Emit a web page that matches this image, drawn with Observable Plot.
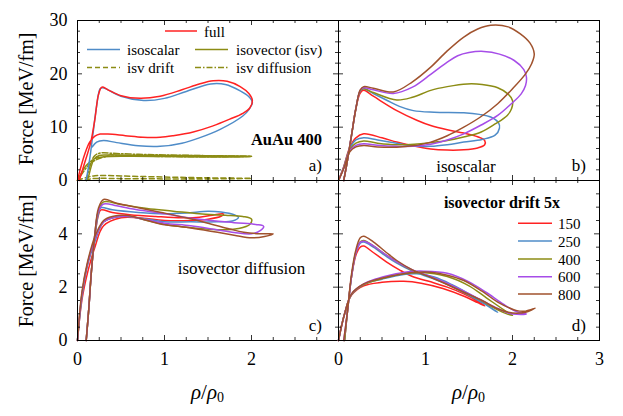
<!DOCTYPE html>
<html><head><meta charset="utf-8">
<script src="https://cdn.jsdelivr.net/npm/d3@7"></script>
<script src="https://cdn.jsdelivr.net/npm/@observablehq/plot@0.6"></script>
<style>
body{margin:0;background:#fff;}
#chart{position:relative;width:623px;height:416px;font-family:"Liberation Serif","DejaVu Serif",serif;}
#chart svg{position:absolute;left:0;top:0;}
#chart text{font-family:"Liberation Serif","DejaVu Serif",serif;}
</style></head><body><div id="chart"></div>
<script>
// ---------- data (rho/rho0, force MeV/fm) ----------
// panel a) AuAu 400
const a_full = [[0.02,0],[0.08,3.2],[0.15,7.0],[0.2,11.5],[0.24,16.0],[0.28,17.5],[0.35,17.0],[0.5,15.9],[0.72,15.4],[0.95,15.8],[1.2,17.0],[1.4,18.1],[1.56,18.7],[1.72,18.6],[1.87,17.6],[1.97,16.3],[2.01,15.0],[1.98,13.6],[1.9,12.6],[1.75,11.5],[1.55,10.2],[1.33,9.1],[1.1,8.4],[0.95,8.1],[0.75,8.1],[0.55,8.4],[0.35,8.7],[0.26,8.7],[0.2,8.3],[0.14,7.2],[0.08,4.8],[0.03,2.0],[0,0]];
const a_isoscalar = [[0.1,0],[0.14,4.0],[0.18,9.0],[0.22,14.0],[0.26,17.2],[0.29,17.4],[0.35,17.0],[0.5,15.8],[0.76,15.0],[1.0,15.4],[1.25,16.7],[1.53,18.1],[1.7,18.0],[1.87,16.8],[1.97,15.7],[2.01,14.6],[1.97,13.3],[1.9,12.1],[1.64,9.6],[1.4,8.0],[1.2,7.0],[0.95,6.4],[0.7,6.5],[0.45,7.1],[0.3,7.5],[0.22,7.2],[0.17,6.3]];
const a_isv = [[0,0],[0.1,2.8],[0.2,4.1],[0.3,4.45],[0.6,4.55],[1.0,4.5],[1.5,4.4],[1.8,4.4],[2.0,4.5],[1.8,4.6],[1.5,4.65],[1.0,4.7],[0.6,4.75],[0.35,4.8],[0.25,4.7],[0.19,4.0],[0.15,2.2],[0.12,0.4],[0.1,0]];
const a_isv_drift = [[0,0],[0.1,0.55],[0.2,0.9],[0.3,0.95],[0.5,0.85],[1.0,0.65],[1.5,0.5],[2.0,0.4],[1.5,0.3],[1.0,0.3],[0.5,0.35],[0.25,0.4],[0.15,0.3],[0.08,0.05]];
const a_isv_diffusion = [[0.1,0],[0.15,3.0],[0.2,4.7],[0.28,5.2],[0.4,5.1],[0.7,4.9],[1.0,4.8],[1.5,4.65],[2.0,4.55],[1.5,4.45],[1.0,4.5],[0.6,4.6],[0.3,4.4],[0.15,3.2],[0.05,1.2],[0,0]];
// panel b) isoscalar, per beam energy
const b_150 = [[0.06,0],[0.1,3.5],[0.15,8.5],[0.2,13.5],[0.25,16.4],[0.29,16.9],[0.4,15.8],[0.67,13.1],[0.9,11.3],[1.06,10.3],[1.25,9.5],[1.44,8.9],[1.6,8.2],[1.68,7.5],[1.68,6.7],[1.6,6.1],[1.44,5.75],[1.25,5.7],[1.06,5.9],[0.85,6.5],[0.67,7.2],[0.5,8.0],[0.29,8.75],[0.2,8.0],[0.13,6.2],[0.06,2.6],[0,0]];
const b_250 = [[0.06,0],[0.1,3.5],[0.15,8.5],[0.2,13.5],[0.25,16.8],[0.29,17.2],[0.4,16.3],[0.56,15.0],[0.7,13.9],[0.86,13.1],[1.1,12.8],[1.44,12.7],[1.62,12.4],[1.75,11.9],[1.84,10.8],[1.85,9.8],[1.8,8.5],[1.65,7.7],[1.44,7.2],[1.25,6.7],[1.06,6.4],[0.85,6.5],[0.67,7.0],[0.45,7.6],[0.29,8.0],[0.2,7.6],[0.13,6.0],[0.06,2.5],[0,0]];
const b_400 = [[0.06,0],[0.1,3.5],[0.15,8.5],[0.2,13.5],[0.25,16.8],[0.29,17.2],[0.4,16.5],[0.67,15.1],[0.85,15.6],[1.06,16.9],[1.25,17.6],[1.48,18.1],[1.65,18.0],[1.83,17.4],[1.95,16.2],[2.0,15.0],[1.99,13.5],[1.94,12.2],[1.8,10.6],[1.64,9.1],[1.45,8.2],[1.25,7.5],[1.06,7.1],[0.87,6.8],[0.67,6.7],[0.45,7.0],[0.29,7.4],[0.2,7.0],[0.13,5.8],[0.06,2.4],[0,0]];
const b_600 = [[0.06,0],[0.1,3.5],[0.15,8.5],[0.2,13.5],[0.25,16.9],[0.29,17.4],[0.4,17.0],[0.63,16.3],[0.85,17.5],[1.06,19.9],[1.25,22.2],[1.37,23.4],[1.5,24.0],[1.67,24.2],[1.85,23.7],[2.02,22.5],[2.13,20.8],[2.16,19.4],[2.15,17.8],[2.1,16.25],[1.98,14.3],[1.83,12.2],[1.64,10.4],[1.44,8.75],[1.25,7.6],[1.06,6.8],[0.85,6.4],[0.67,6.4],[0.45,6.6],[0.29,6.9],[0.2,6.6],[0.13,5.6],[0.06,2.3],[0,0]];
const b_800 = [[0.06,0],[0.1,3.5],[0.15,8.5],[0.2,13.5],[0.25,17.0],[0.29,17.6],[0.4,17.3],[0.63,16.6],[0.85,18.5],[1.06,21.25],[1.25,24.3],[1.44,26.9],[1.6,28.4],[1.75,29.1],[1.95,28.8],[2.09,27.5],[2.2,25.8],[2.25,23.75],[2.22,21.9],[2.15,20.0],[2.0,17.2],[1.83,14.4],[1.64,12.0],[1.44,10.0],[1.25,8.4],[1.06,7.2],[0.85,6.5],[0.67,6.25],[0.45,6.3],[0.29,6.56],[0.2,6.3],[0.13,5.4],[0.06,2.2],[0,0]];
// panel c) isovector diffusion
const c_150 = [[0.1,0],[0.13,1.2],[0.16,2.6],[0.2,3.9],[0.24,4.7],[0.27,4.9],[0.4,4.8],[0.6,4.72],[0.9,4.65],[1.2,4.6],[1.4,4.62],[1.55,4.7],[1.68,4.75],[1.65,4.66],[1.5,4.55],[1.3,4.5],[1.0,4.5],[0.7,4.6],[0.5,4.6],[0.3,4.3],[0.2,3.5],[0.12,2.6],[0.05,1.5],[0,0]];
const c_250 = [[0.1,0],[0.13,1.2],[0.16,2.6],[0.2,3.9],[0.24,4.75],[0.27,4.98],[0.4,4.9],[0.7,4.8],[1.0,4.75],[1.25,4.78],[1.5,4.85],[1.65,4.82],[1.8,4.72],[1.85,4.62],[1.78,4.48],[1.6,4.45],[1.3,4.45],[1.0,4.45],[0.7,4.6],[0.5,4.65],[0.3,4.45],[0.2,3.7],[0.11,2.75],[0.05,1.6],[0,0]];
const c_400 = [[0.1,0],[0.13,1.2],[0.16,2.6],[0.2,4.0],[0.24,4.85],[0.3,5.2],[0.5,5.1],[0.8,4.95],[1.1,4.85],[1.4,4.75],[1.7,4.7],[1.9,4.65],[2.0,4.55],[1.98,4.35],[1.85,4.2],[1.65,4.15],[1.4,4.2],[1.1,4.3],[0.8,4.5],[0.6,4.65],[0.4,4.6],[0.3,4.45],[0.2,3.8],[0.11,2.8],[0.05,1.7],[0,0]];
const c_600 = [[0.1,0],[0.13,1.2],[0.16,2.6],[0.2,4.0],[0.24,4.85],[0.3,5.12],[0.45,5.05],[0.6,4.95],[1.0,4.75],[1.4,4.55],[1.8,4.42],[2.05,4.35],[2.14,4.28],[2.1,4.12],[2.0,4.0],[1.8,4.05],[1.6,4.15],[1.3,4.3],[1.0,4.4],[0.75,4.55],[0.6,4.65],[0.4,4.6],[0.3,4.45],[0.2,3.8],[0.11,2.8],[0.05,1.7],[0,0]];
const c_800 = [[0.1,0],[0.13,1.2],[0.16,2.6],[0.2,4.0],[0.24,4.95],[0.3,5.29],[0.45,5.15],[0.7,4.98],[0.95,4.81],[1.25,4.6],[1.53,4.37],[1.75,4.18],[1.91,4.06],[2.1,4.0],[2.25,4.0],[2.15,3.9],[2.0,3.85],[1.8,3.95],[1.53,4.1],[1.25,4.25],[0.95,4.37],[0.75,4.55],[0.57,4.69],[0.4,4.65],[0.3,4.5],[0.2,3.9],[0.11,2.87],[0.05,1.8],[0,0]];
// panel d) isovector drift 5x
const d_150 = [[0.07,0],[0.1,1.0],[0.15,2.4],[0.2,3.2],[0.25,3.5],[0.29,3.54],[0.4,3.3],[0.55,2.95],[0.7,2.65],[0.85,2.4],[1.06,2.2],[1.25,2.0],[1.44,1.75],[1.6,1.48],[1.68,1.3],[1.6,1.42],[1.45,1.65],[1.2,1.95],[0.95,2.15],[0.75,2.22],[0.5,2.18],[0.29,2.05],[0.15,1.7],[0.07,1.0],[0,0]];
const d_250 = [[0.07,0],[0.1,1.0],[0.15,2.4],[0.2,3.3],[0.25,3.65],[0.29,3.69],[0.4,3.5],[0.55,3.15],[0.67,2.9],[0.85,2.6],[1.06,2.35],[1.25,2.1],[1.44,1.8],[1.65,1.42],[1.83,1.06],[1.72,1.3],[1.55,1.65],[1.3,2.1],[1.1,2.38],[0.9,2.5],[0.7,2.45],[0.5,2.3],[0.29,2.1],[0.15,1.72],[0.07,1.0],[0,0]];
const d_400 = [[0.07,0],[0.1,1.0],[0.15,2.4],[0.2,3.3],[0.25,3.7],[0.29,3.75],[0.4,3.55],[0.55,3.2],[0.67,2.95],[0.85,2.63],[1.06,2.38],[1.25,2.12],[1.44,1.82],[1.65,1.48],[1.83,1.15],[1.95,0.98],[2.0,0.94],[1.9,1.15],[1.7,1.6],[1.5,2.05],[1.25,2.4],[0.95,2.55],[0.75,2.5],[0.5,2.32],[0.29,2.1],[0.15,1.73],[0.07,1.0],[0,0]];
const d_600 = [[0.06,0],[0.1,1.0],[0.15,2.4],[0.2,3.3],[0.25,3.68],[0.29,3.72],[0.4,3.55],[0.55,3.2],[0.67,2.95],[0.85,2.65],[1.06,2.4],[1.25,2.15],[1.44,1.85],[1.65,1.5],[1.83,1.2],[1.95,1.03],[2.05,0.98],[2.16,1.0],[2.05,1.08],[1.9,1.35],[1.7,1.8],[1.5,2.2],[1.25,2.52],[0.98,2.6],[0.8,2.58],[0.6,2.46],[0.45,2.33],[0.29,2.12],[0.15,1.75],[0.07,1.0],[0,0]];
const d_800 = [[0.06,0],[0.1,1.0],[0.15,2.5],[0.2,3.4],[0.25,3.85],[0.29,3.91],[0.4,3.7],[0.55,3.3],[0.67,3.0],[0.85,2.65],[1.06,2.37],[1.25,2.1],[1.44,1.81],[1.65,1.5],[1.83,1.19],[1.95,1.06],[2.05,1.02],[2.15,1.06],[2.26,1.21],[2.15,1.1],[2.05,1.12],[1.83,1.44],[1.65,1.85],[1.44,2.25],[1.25,2.45],[1.06,2.56],[0.85,2.55],[0.67,2.46],[0.45,2.3],[0.29,2.12],[0.15,1.75],[0.07,1.0],[0,0]];

const energies = ["150","250","400","600","800"];
const energyColors = ["#ff2222","#4f8cc8","#8c8c14","#a64de8","#a0522d"];
const cRed = "#ff2222", cBlue = "#4f8cc8", cOlive = "#8c8c14";
const xTickValues = [0,1,2,3];
const yTopTicks = [0,10,20,30];
const yBotTicks = [0,2,4,6];

// ---------- layout ----------
const W = 623, H = 416;
const xL0 = 77, xMid = 338, xR1 = 599, yTop = 20, yMidPx = 180, yBot = 340;
const chart = document.getElementById("chart");
const FONT = "'Liberation Serif', 'DejaVu Serif', serif";

function panel({series, yDomain, yMajor, yMinorStep, left, right, top, bottom, xLabels, yLabels}) {
  const innerW = W - left - right, innerH = H - top - bottom;
  const xMinor = d3.range(0, 3.0001, 0.25).filter(v => !xTickValues.includes(v));
  const yMinor = d3.range(yDomain[0], yDomain[1] + 1e-6, yMinorStep).filter(v => !yMajor.some(m => Math.abs(m - v) < 1e-9));
  const marks = [];
  for (const s of series) {
    marks.push(Plot.line(s.data, {x: d => d[0], y: d => d[1], stroke: s.color, strokeWidth: 1.5,
      strokeDasharray: s.dash || null, curve: "catmull-rom"}));
  }
  const tick = {stroke: "black", strokeWidth: 0.8};
  marks.push(Plot.ruleX(xTickValues, {x: d => d, insetTop: innerH - 5, ...tick}));
  marks.push(Plot.ruleX(xTickValues, {x: d => d, insetBottom: innerH - 5, ...tick}));
  marks.push(Plot.ruleX(xMinor, {x: d => d, insetTop: innerH - 3, ...tick}));
  marks.push(Plot.ruleX(xMinor, {x: d => d, insetBottom: innerH - 3, ...tick}));
  marks.push(Plot.ruleY(yMajor, {y: d => d, insetRight: innerW - 5, ...tick}));
  marks.push(Plot.ruleY(yMajor, {y: d => d, insetLeft: innerW - 5, ...tick}));
  marks.push(Plot.ruleY(yMinor, {y: d => d, insetRight: innerW - 3, ...tick}));
  marks.push(Plot.ruleY(yMinor, {y: d => d, insetLeft: innerW - 3, ...tick}));
  marks.push(Plot.frame({stroke: "black", strokeWidth: 1}));
  if (xLabels) marks.push(Plot.text(xLabels, {x: d => d, frameAnchor: "bottom", dy: 18.5, lineAnchor: "middle", text: d => String(d), fontSize: 18, fill: "black"}));
  if (yLabels) marks.push(Plot.text(yLabels, {y: d => d, frameAnchor: "left", dx: -10, textAnchor: "end", lineAnchor: "middle", text: d => String(d), fontSize: 18, fill: "black"}));
  const svg = Plot.plot({
    width: W, height: H, marginLeft: left, marginRight: right, marginTop: top, marginBottom: bottom,
    x: {domain: [0, 3], axis: null}, y: {domain: yDomain, axis: null},
    style: {background: "transparent", fontFamily: FONT, overflow: "visible"},
    marks
  });
  svg.style.position = "absolute"; svg.style.left = "0px"; svg.style.top = "0px";
  chart.appendChild(svg);
}

const byEnergy = (arrs) => arrs.map((d, i) => ({data: d, color: energyColors[i]}));

panel({series: [
    {data: a_isv_drift, color: cOlive, dash: "5,3"},
    {data: a_isv_diffusion, color: cOlive, dash: "6,2,1.5,2"},
    {data: a_isv, color: cOlive},
    {data: a_isoscalar, color: cBlue},
    {data: a_full, color: cRed}],
  yDomain: [0, 30], yMajor: yTopTicks, yMinorStep: 2,
  left: xL0, right: W - xMid, top: yTop, bottom: H - yMidPx, yLabels: yTopTicks});
panel({series: byEnergy([b_150, b_250, b_400, b_600, b_800]),
  yDomain: [0, 30], yMajor: yTopTicks, yMinorStep: 2,
  left: xMid, right: W - xR1, top: yTop, bottom: H - yMidPx});
panel({series: byEnergy([c_150, c_250, c_400, c_600, c_800]),
  yDomain: [0, 6], yMajor: yBotTicks, yMinorStep: 0.5,
  left: xL0, right: W - xMid, top: yMidPx, bottom: H - yBot, xLabels: [0, 1, 2], yLabels: [0, 2, 4]});
panel({series: byEnergy([d_150, d_250, d_400, d_600, d_800]),
  yDomain: [0, 6], yMajor: yBotTicks, yMinorStep: 0.5,
  left: xMid, right: W - xR1, top: yMidPx, bottom: H - yBot, xLabels: [0, 1, 2, 3]});

// ---------- annotations & legends ----------
const ov = d3.select(chart).append("svg").attr("width", W).attr("height", H)
  .style("position", "absolute").style("left", "0px").style("top", "0px");
function txt(x, y, s, {size = 17, anchor = "start", weight = "normal"} = {}) {
  return ov.append("text").attr("x", x).attr("y", y).style("font-family", FONT).attr("font-size", size).attr("text-anchor", anchor)
    .attr("font-weight", weight).attr("dominant-baseline", "central").attr("fill", "black").text(s);
}
function sample(x1, x2, y, color, dash) {
  ov.append("line").attr("x1", x1).attr("x2", x2).attr("y1", y).attr("y2", y)
    .attr("stroke", color).attr("stroke-width", 1.5).attr("stroke-dasharray", dash || null);
}
sample(165, 197, 31, cRed); txt(204, 32, "full", {size: 15});
sample(87, 120, 49.5, cBlue); txt(127, 50, "isoscalar", {size: 15});
sample(195, 228, 49.5, cOlive); txt(236, 50, "isovector (isv)", {size: 15});
sample(87, 120, 67.5, cOlive, "5,3"); txt(127, 68, "isv drift", {size: 15});
sample(195, 228, 67.5, cOlive, "6,2,1.5,2"); txt(236, 68, "isv diffusion", {size: 15});
txt(322, 139, "AuAu 400", {anchor: "end", weight: "bold", size: 16.5});
txt(322, 165, "a)", {anchor: "end"});
txt(466, 166, "isoscalar", {anchor: "middle"});
txt(586, 165, "b)", {anchor: "end"});
txt(241.5, 268, "isovector diffusion", {anchor: "middle"});
txt(322, 325, "c)", {anchor: "end"});
txt(560, 202, "isovector drift 5x", {anchor: "end", weight: "bold", size: 16});
const legY = [223.3, 241, 259, 276.7, 294];
energies.forEach((e, i) => { sample(518, 552, legY[i], energyColors[i]); txt(558, legY[i] + 0.5, e, {size: 15}); });
txt(586, 325, "d)", {anchor: "end"});
for (const cy of [99, 261]) {
  ov.append("text").attr("transform", `translate(26,${cy}) rotate(-90)`).attr("text-anchor", "middle")
    .style("font-family", FONT).attr("dominant-baseline", "central").attr("font-size", 20).attr("fill", "black").text("Force [MeV/fm]");
}
for (const cx of [207.5, 468.5]) {
  const t = ov.append("text").attr("x", cx).attr("y", 392).attr("text-anchor", "middle").style("font-family", FONT)
    .attr("dominant-baseline", "central").attr("font-size", 21).attr("fill", "black");
  t.append("tspan").attr("font-style", "italic").text("ρ");
  t.append("tspan").text("/");
  t.append("tspan").attr("font-style", "italic").text("ρ");
  t.append("tspan").attr("font-size", 14).attr("dy", 5).text("0");
}
</script></body></html>
